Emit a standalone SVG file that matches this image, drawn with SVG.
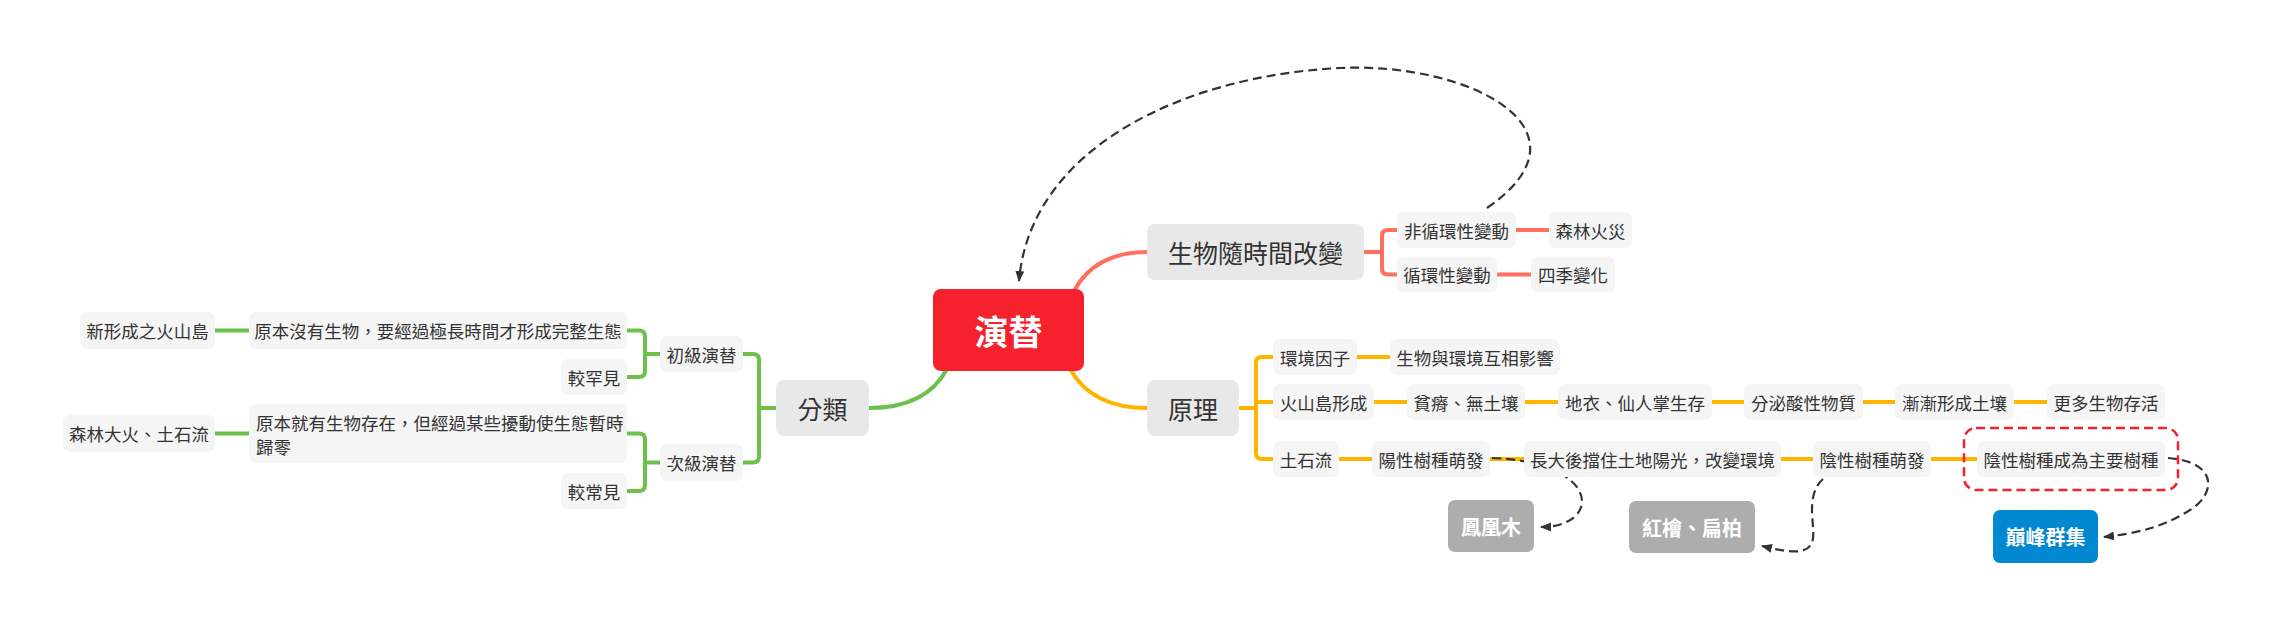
<svg xmlns="http://www.w3.org/2000/svg" width="2277" height="625" viewBox="0 0 2277 625">
<style>
text{font-family:"Noto Sans CJK TC","Noto Sans CJK SC",sans-serif;fill:#333;dominant-baseline:central;text-anchor:middle}
.s{fill:#f5f5f5}
.m{fill:#e8e8e8}
.st{font-size:17.5px}
.mt{font-size:25px}
.g{fill:none;stroke:#6bc14b;stroke-width:4}
.y{fill:none;stroke:#ffb400;stroke-width:4}
.r{fill:none;stroke:#ff6f5e;stroke-width:4}
.d{fill:none;stroke:#333;stroke-width:2.2;stroke-dasharray:9 5}
.w{fill:#fff;font-weight:bold;font-size:20px}
</style>
<defs>
<marker id="ah" markerUnits="userSpaceOnUse" markerWidth="12" markerHeight="10" refX="10" refY="4.5" orient="auto">
<path d="M0,0 L11,4.5 L0,9 z" fill="#333"/>
</marker>
</defs>
<g id="connectors">
<path class="g" stroke-width="5" d="M869,408 Q926,408 947,369"/>
<path class="y" stroke-width="5" d="M1070,369 Q1092,408 1147,408"/>
<path class="r" stroke-width="5" d="M1074,291 Q1095,252 1147,252"/>
<path class="g" d="M660,354 H645 M627,330.5 H639 Q645,330.5 645,336.5 V371 Q645,377 639,377 H627"/>
<path class="g" d="M660,462.5 H645 M627,433.5 H639 Q645,433.5 645,439.5 V485 Q645,491 639,491 H627"/>
<path class="g" d="M776,408 H759 M743,354 H753 Q759,354 759,360 V456.5 Q759,462.5 753,462.5 H743"/>
<path class="g" d="M215,330.5 H249 M215,433.5 H249"/>
<path class="r" d="M1364,252 H1382 M1397,230 H1388 Q1382,230 1382,236 V268.5 Q1382,274.5 1388,274.5 H1397"/>
<path class="r" d="M1516,230 H1549 M1497,274.5 H1531"/>
<path class="y" d="M1239,408 H1256 M1273,357 H1262 Q1256,357 1256,363 V453 Q1256,459 1262,459 H1273 M1256,402 H1273"/>
<path class="y" d="M1357,357 H1390 M1374,402 H1407 M1525,402 H1558 M1712,402 H1744 M1863,402 H1895 M2014,402 H2047 M1339,459 H1372 M1490,459 H1524 M1781,459 H1813 M1931,459 H1977"/>
<path class="d" marker-end="url(#ah)" d="M1487,208 C1600,130 1470,62 1340,68 C1180,76 1030,150 1019,281"/>
<path class="d" marker-end="url(#ah)" d="M1492,458 C1602,462 1602,527 1541,527"/>
<path class="d" marker-end="url(#ah)" d="M1823,479 C1805,495 1815,525 1813,538 C1811,556 1790,553 1762,546"/>
<path class="d" marker-end="url(#ah)" d="M2168,458 C2220,462 2215,495 2190,510 C2165,526 2140,533 2104,537"/>
</g>
<g id="n-central"><rect x="933" y="289" width="151" height="82" rx="8" fill="#f5222d"/><text x="1008.5" y="330" style="fill:#fff;font-weight:bold;font-size:34px">演替</text></g>
<g id="n-fenlei"><rect class="m" x="776" y="380" width="93" height="56" rx="8"/><text class="mt" x="822.5" y="408">分類</text></g>
<g id="n-yuanli"><rect class="m" x="1147" y="380" width="92" height="56" rx="8"/><text class="mt" x="1193" y="408">原理</text></g>
<g id="n-shengwu"><rect class="m" x="1147" y="224" width="217" height="56" rx="8"/><text class="mt" x="1255.5" y="252">生物隨時間改變</text></g>
<g id="n-feixunhuan"><rect class="s" x="1397" y="212" width="119" height="36" rx="7"/><text class="st" x="1456.5" y="230">非循環性變動</text></g>
<g id="n-senlinhuozai"><rect class="s" x="1549" y="212" width="83" height="36" rx="7"/><text class="st" x="1590.5" y="230">森林火災</text></g>
<g id="n-xunhuan"><rect class="s" x="1397" y="256.5" width="100" height="36" rx="7"/><text class="st" x="1447" y="274.5">循環性變動</text></g>
<g id="n-siji"><rect class="s" x="1531" y="256.5" width="84" height="36" rx="7"/><text class="st" x="1573" y="274.5">四季變化</text></g>
<g id="n-huanjing"><rect class="s" x="1273" y="339" width="84" height="36" rx="7"/><text class="st" x="1315" y="357">環境因子</text></g>
<g id="n-hubu"><rect class="s" x="1390" y="339" width="170" height="36" rx="7"/><text class="st" x="1475" y="357">生物與環境互相影響</text></g>
<g id="n-huoshan"><rect class="s" x="1273" y="384" width="101" height="36" rx="7"/><text class="st" x="1323.5" y="402">火山島形成</text></g>
<g id="n-pinji"><rect class="s" x="1407" y="384" width="118" height="36" rx="7"/><text class="st" x="1466" y="402">貧瘠、無土壤</text></g>
<g id="n-diyi"><rect class="s" x="1558" y="384" width="154" height="36" rx="7"/><text class="st" x="1635" y="402">地衣、仙人掌生存</text></g>
<g id="n-fenmi"><rect class="s" x="1744" y="384" width="119" height="36" rx="7"/><text class="st" x="1803.5" y="402">分泌酸性物質</text></g>
<g id="n-jianjian"><rect class="s" x="1895" y="384" width="119" height="36" rx="7"/><text class="st" x="1954.5" y="402">漸漸形成土壤</text></g>
<g id="n-gengduo"><rect class="s" x="2047" y="384" width="118" height="36" rx="7"/><text class="st" x="2106" y="402">更多生物存活</text></g>
<g id="n-tushiliu"><rect class="s" x="1273" y="441" width="66" height="36" rx="7"/><text class="st" x="1306" y="459">土石流</text></g>
<g id="n-yangxing"><rect class="s" x="1372" y="441" width="118" height="36" rx="7"/><text class="st" x="1431" y="459">陽性樹種萌發</text></g>
<g id="n-zhangda"><rect class="s" x="1524" y="441" width="257" height="36" rx="7"/><text class="st" x="1652.5" y="459">長大後擋住土地陽光，改變環境</text></g>
<g id="n-yinxing"><rect class="s" x="1813" y="441" width="118" height="36" rx="7"/><text class="st" x="1872" y="459">陰性樹種萌發</text></g>
<g id="n-zhuyao"><rect class="s" x="1977" y="441" width="188" height="36" rx="7"/><text class="st" x="2071" y="459">陰性樹種成為主要樹種</text><rect x="1964" y="428" width="214" height="62" rx="12" fill="none" stroke="#f5222d" stroke-width="2.5" stroke-dasharray="9 5"/></g>
<g id="n-fenghuang"><rect x="1448" y="500" width="86" height="52" rx="7" fill="#adadad"/><text class="w" x="1491" y="526">鳳凰木</text></g>
<g id="n-hongkuai"><rect x="1629" y="501" width="126" height="52" rx="7" fill="#adadad"/><text class="w" x="1692" y="527">紅檜、扁柏</text></g>
<g id="n-dianfeng"><rect x="1993" y="510" width="105" height="53" rx="7" fill="#0288d1"/><text class="w" x="2045.5" y="536.5">巔峰群集</text></g>
<g id="n-xinxingcheng"><rect class="s" x="80" y="312" width="135" height="37" rx="7"/><text class="st" x="147.5" y="330.5">新形成之火山島</text></g>
<g id="n-yuanbenmeiyou"><rect class="s" x="249" y="312" width="378" height="37" rx="7"/><text class="st" x="438" y="330.5">原本沒有生物，要經過極長時間才形成完整生態</text></g>
<g id="n-jiaohan"><rect class="s" x="561" y="359" width="66" height="36" rx="7"/><text class="st" x="594" y="377">較罕見</text></g>
<g id="n-chuji"><rect class="s" x="660" y="336" width="83" height="36" rx="7"/><text class="st" x="701.5" y="354">初級演替</text></g>
<g id="n-senlindahuo"><rect class="s" x="63" y="415" width="152" height="37" rx="7"/><text class="st" x="139" y="433.5">森林大火、土石流</text></g>
<g id="n-yuanbenjiuyou"><rect class="s" x="249" y="404" width="378" height="59" rx="7"/><text class="st" x="256" y="422.5" style="text-anchor:start">原本就有生物存在，但經過某些擾動使生態暫時</text><text class="st" x="256" y="446" style="text-anchor:start">歸零</text></g>
<g id="n-jiaochang"><rect class="s" x="561" y="473" width="66" height="36" rx="7"/><text class="st" x="594" y="491">較常見</text></g>
<g id="n-ciji"><rect class="s" x="660" y="444" width="83" height="37" rx="7"/><text class="st" x="701.5" y="462.5">次級演替</text></g>
</svg>
